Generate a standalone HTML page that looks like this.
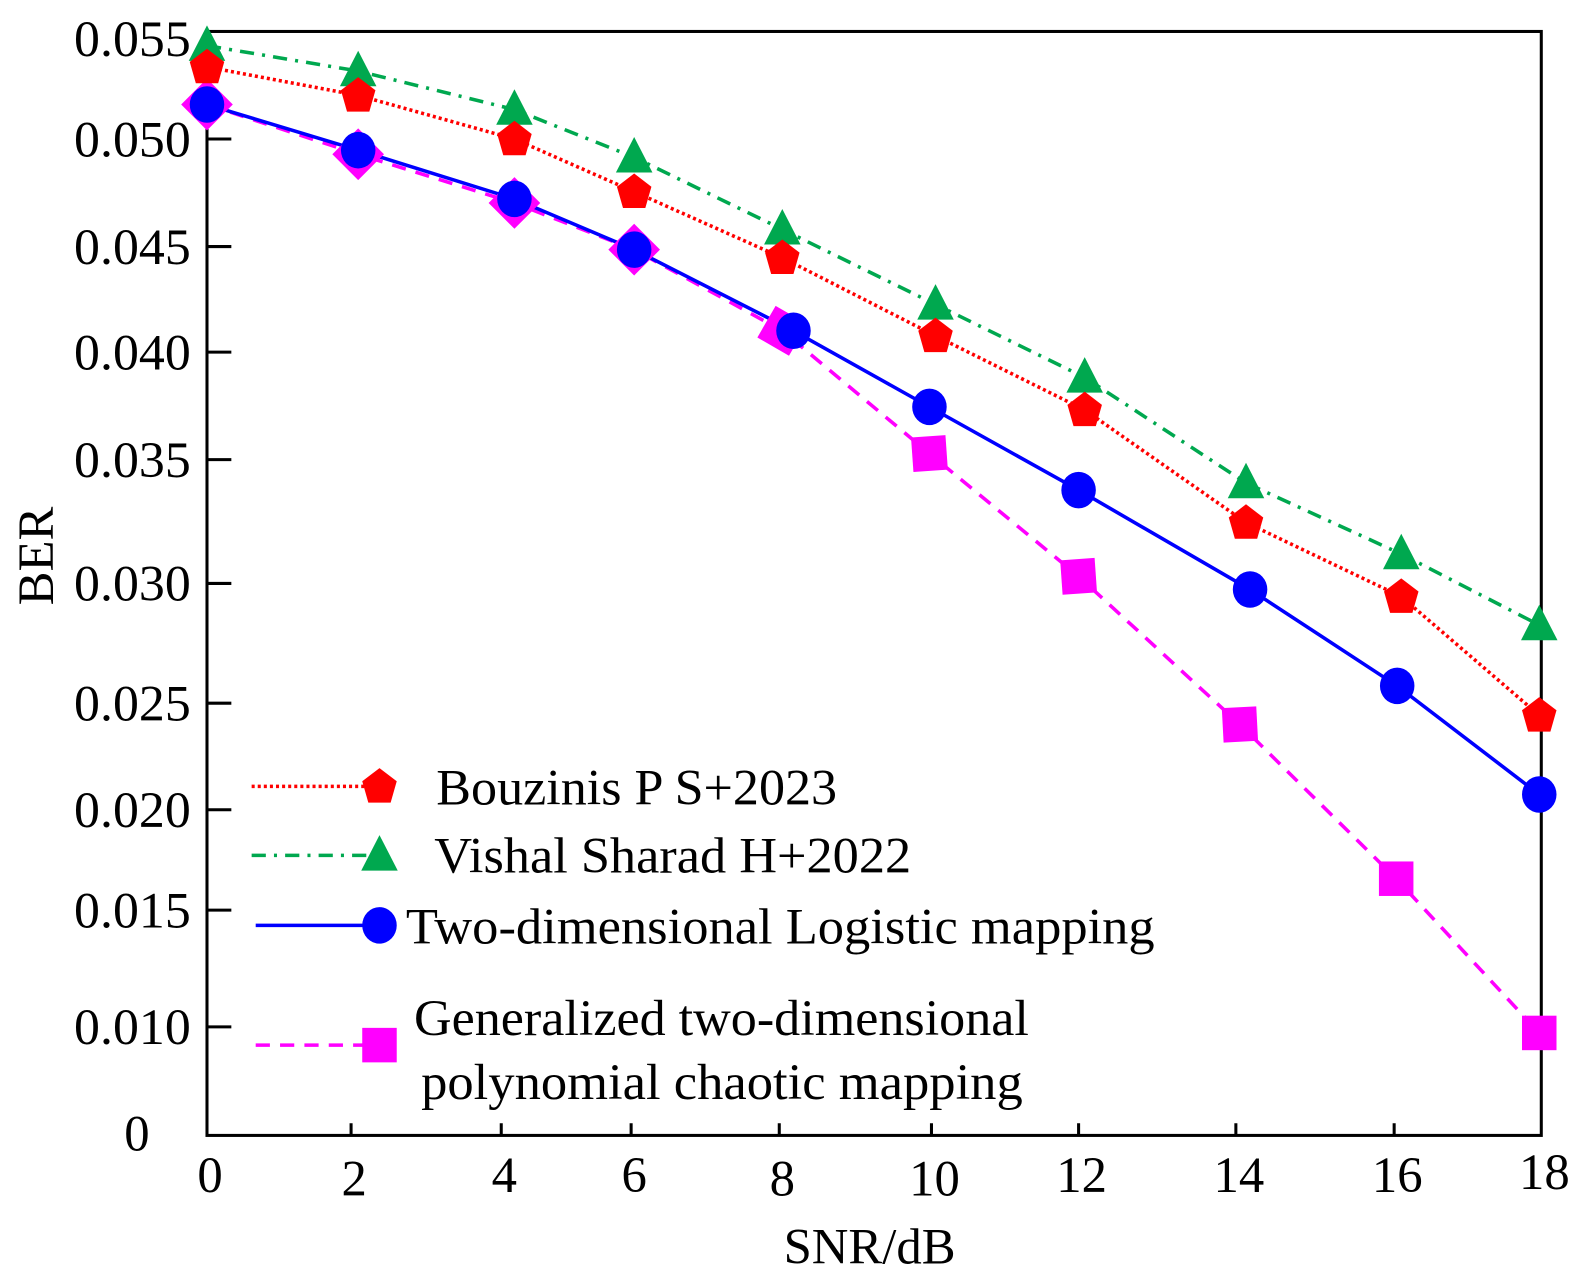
<!DOCTYPE html>
<html><head><meta charset="utf-8"><style>
html,body{margin:0;padding:0;background:#fff;}
svg{display:block;}
text{font-family:"Liberation Serif",serif;fill:#000;}
</style></head><body>
<svg width="1591" height="1286" viewBox="0 0 1568 1267.4" xmlns="http://www.w3.org/2000/svg">
<rect width="1568" height="1268" fill="#fff"/>
<rect x="204" y="31" width="1315" height="1088" fill="none" stroke="#000" stroke-width="3"/>
<g stroke="#000" stroke-width="3">
<line x1="204" y1="137" x2="228" y2="137"/><line x1="204" y1="243" x2="228" y2="243"/>
<line x1="204" y1="347" x2="228" y2="347"/><line x1="204" y1="453" x2="228" y2="453"/>
<line x1="204" y1="575" x2="228" y2="575"/><line x1="204" y1="693" x2="228" y2="693"/>
<line x1="204" y1="798" x2="228" y2="798"/><line x1="204" y1="897" x2="228" y2="897"/>
<line x1="204" y1="1012" x2="228" y2="1012"/>
<line x1="346" y1="1119" x2="346" y2="1107"/><line x1="494" y1="1119" x2="494" y2="1107"/>
<line x1="622" y1="1119" x2="622" y2="1107"/><line x1="768" y1="1119" x2="768" y2="1107"/>
<line x1="918" y1="1119" x2="918" y2="1107"/><line x1="1063" y1="1119" x2="1063" y2="1107"/>
<line x1="1218" y1="1119" x2="1218" y2="1107"/><line x1="1374" y1="1119" x2="1374" y2="1107"/>
</g>
<g font-size="50">
<text x="73" y="55" textLength="115" lengthAdjust="spacingAndGlyphs">0.055</text>
<text x="73" y="154" textLength="115" lengthAdjust="spacingAndGlyphs">0.050</text>
<text x="73" y="260" textLength="115" lengthAdjust="spacingAndGlyphs">0.045</text>
<text x="73" y="364" textLength="115" lengthAdjust="spacingAndGlyphs">0.040</text>
<text x="73" y="470" textLength="115" lengthAdjust="spacingAndGlyphs">0.035</text>
<text x="73" y="592" textLength="115" lengthAdjust="spacingAndGlyphs">0.030</text>
<text x="73" y="710" textLength="115" lengthAdjust="spacingAndGlyphs">0.025</text>
<text x="73" y="815" textLength="115" lengthAdjust="spacingAndGlyphs">0.020</text>
<text x="73" y="914" textLength="115" lengthAdjust="spacingAndGlyphs">0.015</text>
<text x="73" y="1029" textLength="115" lengthAdjust="spacingAndGlyphs">0.010</text>
</g>
<g font-size="50" text-anchor="middle">
<text x="135" y="1134">0</text>
<text x="207" y="1175">0</text><text x="349" y="1178">2</text><text x="497" y="1175">4</text>
<text x="625" y="1175">6</text><text x="771" y="1178">8</text><text x="921" y="1178">10</text>
<text x="1066" y="1175">12</text><text x="1221" y="1175">14</text><text x="1377" y="1175">16</text>
<text x="1522" y="1172">18</text>
<text x="857" y="1245">SNR/dB</text>
<text transform="translate(52,548) rotate(-90)">BER</text>
</g>
<defs>
<polygon id="pent" points="0,-18 17,-5 11,16 -11,16 -17,-5" fill="#f00"/>
<polygon id="tri" points="0,-20 18,15 -18,15" fill="#00a84f"/>
<ellipse id="circ" rx="17" ry="18" fill="#00f"/>
<rect id="sq" x="-17" y="-17" width="34" height="34" fill="#f0f"/>
</defs>
<polyline fill="none" stroke="#00a84f" stroke-width="3.5" stroke-dasharray="14,8,3,8" points="204,45 353,70 507,108 625,155 771,226 922,300 1069,372 1228,476 1381,546 1517,616"/>
<polyline fill="none" stroke="#f00" stroke-width="3.5" stroke-dasharray="3,3" points="204,66 353,94 507,137 625,189 771,254 922,331 1069,404 1228,515 1381,588 1517,705"/>
<polyline fill="none" stroke="#f0f" stroke-width="3.5" stroke-dasharray="14,10" points="204,103 353,152 507,200 625,246 771,326 916,447 1063,568 1222,714 1376,866 1517,1018"/>
<polyline fill="none" stroke="#00f" stroke-width="3.5" points="204,103 353,148 507,196 625,246 782,326 916,401 1063,483 1232,581 1377,676 1517,783"/>
<g fill="#f0f">
<rect x="-18" y="-18" width="36" height="36" transform="translate(204,103) rotate(45)"/>
<rect x="-18" y="-18" width="36" height="36" transform="translate(353,152) rotate(45)"/>
<rect x="-18" y="-18" width="36" height="36" transform="translate(507,200) rotate(45)"/>
<rect x="-18" y="-18" width="36" height="36" transform="translate(625,246) rotate(45)"/>
<rect x="-18" y="-18" width="36" height="36" transform="translate(771,326) rotate(30)"/>
<rect x="-17" y="-17" width="34" height="34" transform="translate(916,447) rotate(-4)"/>
<rect x="-17" y="-17" width="34" height="34" transform="translate(1063,568) rotate(-4)"/>
<rect x="-17" y="-17" width="34" height="34" transform="translate(1222,714) rotate(-3)"/>
<use href="#sq" x="1376" y="866"/>
<use href="#sq" x="1517" y="1018"/>
</g>
<g>
<use href="#tri" x="204" y="45"/><use href="#tri" x="353" y="70"/><use href="#tri" x="507" y="108"/>
<use href="#tri" x="625" y="155"/><use href="#tri" x="771" y="226"/><use href="#tri" x="922" y="300"/>
<use href="#tri" x="1069" y="372"/><use href="#tri" x="1228" y="476"/><use href="#tri" x="1381" y="546"/>
<use href="#tri" x="1517" y="616"/>
<use href="#pent" x="204" y="66"/><use href="#pent" x="353" y="94"/><use href="#pent" x="507" y="137"/>
<use href="#pent" x="625" y="189"/><use href="#pent" x="771" y="254"/><use href="#pent" x="922" y="331"/>
<use href="#pent" x="1069" y="404"/><use href="#pent" x="1228" y="515"/><use href="#pent" x="1381" y="588"/>
<use href="#pent" x="1517" y="705"/>
<use href="#circ" x="204" y="103"/><use href="#circ" x="353" y="148"/><use href="#circ" x="507" y="196"/>
<use href="#circ" x="625" y="246"/><use href="#circ" x="782" y="326"/><use href="#circ" x="916" y="401"/>
<use href="#circ" x="1063" y="483"/><use href="#circ" x="1232" y="581"/><use href="#circ" x="1377" y="676"/>
<use href="#circ" x="1517" y="783"/>
</g>
<line x1="248" y1="775" x2="372" y2="775" stroke="#f00" stroke-width="3.5" stroke-dasharray="3,3"/>
<use href="#pent" x="374" y="775"/>
<line x1="248" y1="843" x2="372" y2="843" stroke="#00a84f" stroke-width="3.5" stroke-dasharray="14,8,3,8"/>
<use href="#tri" x="374" y="843"/>
<line x1="252" y1="912" x2="372" y2="912" stroke="#00f" stroke-width="3.5"/>
<use href="#circ" x="374" y="912"/>
<line x1="252" y1="1030" x2="372" y2="1030" stroke="#f0f" stroke-width="3.5" stroke-dasharray="14,10"/>
<use href="#sq" x="374" y="1030"/>
<g font-size="50">
<text x="430" y="793" textLength="395" lengthAdjust="spacingAndGlyphs">Bouzinis P S+2023</text>
<text x="428" y="860" textLength="470" lengthAdjust="spacingAndGlyphs">Vishal Sharad H+2022</text>
<text x="400" y="930" textLength="738" lengthAdjust="spacingAndGlyphs">Two-dimensional Logistic mapping</text>
<text x="408" y="1020" textLength="606" lengthAdjust="spacingAndGlyphs">Generalized two-dimensional</text>
<text x="415" y="1083" textLength="593" lengthAdjust="spacingAndGlyphs">polynomial chaotic mapping</text>
</g>
</svg>
</body></html>
